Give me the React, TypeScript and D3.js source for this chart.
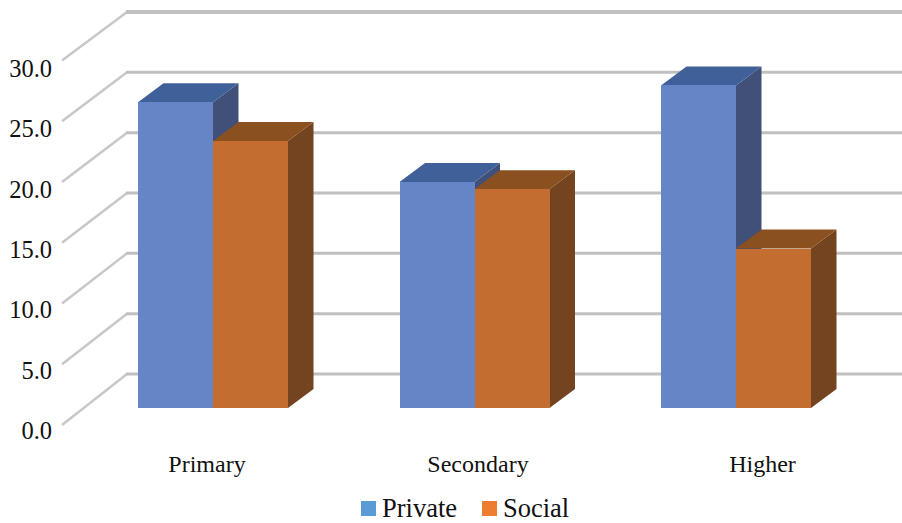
import React from "react";
import * as d3 from "d3";

const categories = ["Primary", "Secondary", "Higher"];
const seriesNames = ["Private", "Social"];
const privateValues = [25.3, 18.7, 26.7];
const socialValues = [22.1, 18.1, 13.2];
const tickValues = [0, 5, 10, 15, 20, 25, 30];

const WIDTH = 902;
const HEIGHT = 523;

// Oblique projection: the wall sits up and to the right of the front axis plane.
const frontLeft = 62;
const wallLeft = 127;

const frontAxis = d3.scaleLinear().domain([0, 30]).range([425, 60.5]);
const wallAxis = d3.scaleLinear().domain([0, 30]).range([374, 12]);
const tickBaseline = d3.scaleLinear().domain([0, 30]).range([439, 77]);
const barHeight = d3.scaleLinear().domain([0, 30]).range([0, 362.5]);

// Bars stand on their own floor line, part way between front axis and wall.
const barBase = 408;
const barDx = 25.5;
const barDy = -19;
const barWidth = 75;
const groupLeft = d3.scalePoint<string>().domain(categories).range([138, 661]);

// Category captions do not sit exactly under their groups.
const captionCenter = d3.scaleOrdinal<string, number>().domain(categories).range([207, 478, 762.5]);

const palette = [
  { front: "#6585c6", top: "#40609a", side: "#405078" },
  { front: "#c36e30", top: "#8b5020", side: "#74431f" },
];
const legendColors = ["#5b9bd5", "#ed7d31"];
const serif = "'Liberation Serif', 'Times New Roman', serif";

function Bar({ x, value, colors }: { x: number; value: number; colors: (typeof palette)[number] }) {
  const top = barBase - barHeight(value);
  const right = x + barWidth;
  const topFace = [[x, top], [x + barDx, top + barDy], [right + barDx, top + barDy], [right, top]];
  const sideFace = [[right, top], [right + barDx, top + barDy], [right + barDx, barBase + barDy], [right, barBase]];
  const outline = d3.line();
  return (
    <g>
      <path d={outline(sideFace as [number, number][]) + "Z"} fill={colors.side} />
      <path d={outline(topFace as [number, number][]) + "Z"} fill={colors.top} />
      <rect
        x={Math.round(x)}
        y={top}
        width={barWidth}
        height={barBase - top}
        fill={colors.front}
        shapeRendering="crispEdges"
      />
    </g>
  );
}

export default function App() {
  const series = [privateValues, socialValues];
  return (
    <svg
      width={WIDTH}
      height={HEIGHT}
      viewBox={`0 0 ${WIDTH} ${HEIGHT}`}
      style={{ position: "absolute", left: 0, top: 0, background: "#fff" }}
    >
      {tickValues.map((t) => (
        <g key={t}>
          <line
            x1={frontLeft}
            y1={frontAxis(t)}
            x2={wallLeft}
            y2={wallAxis(t)}
            stroke="#c8c8c8"
            strokeWidth={2.5}
          />
          <line
            x1={wallLeft - 1}
            y1={wallAxis(t)}
            x2={WIDTH}
            y2={wallAxis(t)}
            stroke="#c0c0c0"
            strokeWidth={t === 30 ? 4 : 3}
          />
          <text
            x={52}
            y={tickBaseline(t)}
            textAnchor="end"
            fontFamily={serif}
            fontSize={24.5}
            fill="#111"
          >
            {d3.format(".1f")(t)}
          </text>
        </g>
      ))}

      {categories.map((c, i) => {
        const left = groupLeft(c) as number;
        return (
          <g key={c}>
            {series.map((values, s) => (
              <Bar key={seriesNames[s]} x={left + s * barWidth} value={values[i]} colors={palette[s]} />
            ))}
            <text
              x={captionCenter(c)}
              y={472}
              textAnchor="middle"
              fontFamily={serif}
              fontSize={24}
              fill="#111"
            >
              {c}
            </text>
          </g>
        );
      })}

      {seriesNames.map((name, s) => {
        const x = [361, 482][s];
        return (
          <g key={name}>
            <rect x={x} y={501} width={15} height={15} fill={legendColors[s]} />
            <text x={x + 21} y={517} fontFamily={serif} fontSize={26.5} fill="#111">
              {name}
            </text>
          </g>
        );
      })}
    </svg>
  );
}
